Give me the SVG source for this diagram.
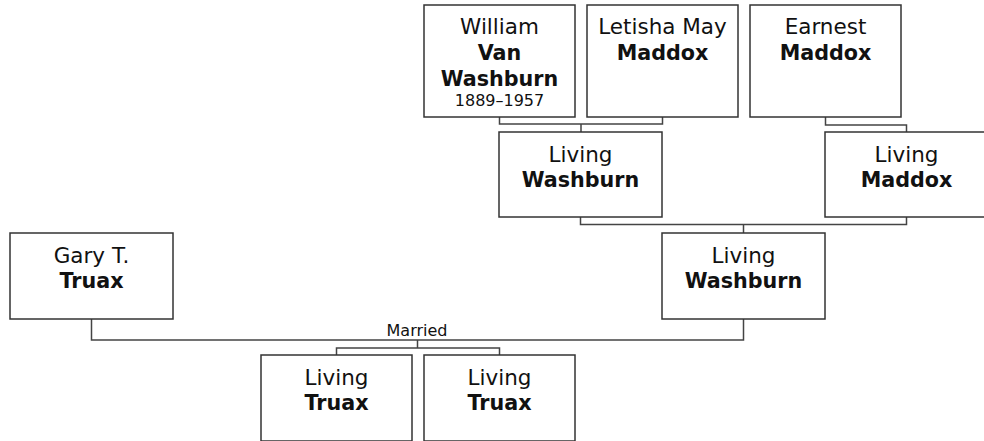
<svg xmlns="http://www.w3.org/2000/svg" width="984" height="441" viewBox="0 0 984 441">
<style>
.box{fill:#fff;stroke:#333;stroke-width:1.5}
.ln{fill:none;stroke:#444;stroke-width:1.5}
text{font-family:"DejaVu Sans",Verdana,sans-serif;fill:#111;text-anchor:middle;font-size:21.5px}
.b{font-weight:bold;font-size:20.7px}
.s{font-size:16px}
</style>
<rect width="984" height="441" fill="#fff"/>
<g id="connectors">
<path class="ln" d="M499.5,117 V124 H662.5 V117 M581,124 V132"/>
<path class="ln" d="M825.5,117 V125 H906.5 V132"/>
<path class="ln" d="M580.5,217 V224.5 H906.5 V217 M743.5,224.5 V233"/>
<path class="ln" d="M91.5,319 V340 H743.5 V319"/>
<path class="ln" d="M417.5,340 V348 H336.5 V355 M417.5,348 H499.5 V355"/>
<text class="s" x="417" y="336">Married</text>
</g>
<g id="william">
<rect class="box" x="424" y="5" width="151" height="112"/>
<text x="499.5" y="34">William</text>
<text class="b" x="499.5" y="60">Van</text>
<text class="b" x="499.5" y="86">Washburn</text>
<text class="s" x="499.5" y="106">1889–1957</text>
</g>
<g id="letisha">
<rect class="box" x="587" y="5" width="151" height="112"/>
<text x="662.5" y="34">Letisha May</text>
<text class="b" x="662.5" y="60">Maddox</text>
</g>
<g id="earnest">
<rect class="box" x="750" y="5" width="151" height="112"/>
<text x="825.5" y="34">Earnest</text>
<text class="b" x="825.5" y="60">Maddox</text>
</g>
<g id="living-washburn-1">
<rect class="box" x="499" y="132" width="163" height="85"/>
<text x="580.5" y="162">Living</text>
<text class="b" x="580.5" y="187">Washburn</text>
</g>
<g id="living-maddox">
<rect class="box" x="825" y="132" width="163" height="85"/>
<text x="906.5" y="162">Living</text>
<text class="b" x="906.5" y="187">Maddox</text>
</g>
<g id="gary">
<rect class="box" x="10" y="233" width="163" height="86"/>
<text x="91.5" y="263">Gary T.</text>
<text class="b" x="91.5" y="288">Truax</text>
</g>
<g id="living-washburn-2">
<rect class="box" x="662" y="233" width="163" height="86"/>
<text x="743.5" y="263">Living</text>
<text class="b" x="743.5" y="288">Washburn</text>
</g>
<g id="living-truax-1">
<rect class="box" x="261" y="355" width="151" height="86"/>
<text x="336.5" y="385">Living</text>
<text class="b" x="336.5" y="410">Truax</text>
</g>
<g id="living-truax-2">
<rect class="box" x="424" y="355" width="151" height="86"/>
<text x="499.5" y="385">Living</text>
<text class="b" x="499.5" y="410">Truax</text>
</g>
</svg>
